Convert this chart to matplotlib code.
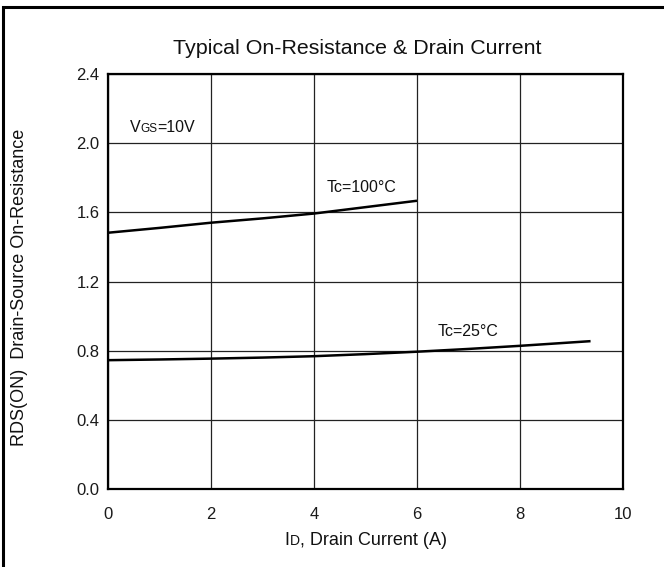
import matplotlib
matplotlib.use("Agg")
import matplotlib.pyplot as plt
from matplotlib.patches import Rectangle

plt.rcParams['font.family'] = ['Liberation Sans', 'DejaVu Sans']

# Data
id_100 = [0, 1, 2, 3, 4, 5, 6]
r_100 = [1.482, 1.51, 1.540, 1.565, 1.593, 1.630, 1.667]
id_25 = [0, 1, 2, 3, 4, 5, 6, 7, 8, 9.37]
r_25 = [0.745, 0.749, 0.754, 0.760, 0.768, 0.780, 0.794, 0.810, 0.828, 0.855]

x_ticks = [0, 2, 4, 6, 8, 10]
y_ticks = [0.0, 0.4, 0.8, 1.2, 1.6, 2.0, 2.4]

fig = plt.figure(figsize=(6.64, 5.67), dpi=100)
ax = fig.add_axes([108/664, 78/567, 515/664, 415/567])

ax.plot(id_100, r_100, color='black', lw=1.8, solid_capstyle='butt')
ax.plot(id_25, r_25, color='black', lw=1.8, solid_capstyle='butt')

ax.set_xlim(0, 10)
ax.set_ylim(0, 2.4)
ax.set_xticks(x_ticks)
ax.set_xticklabels([str(v) for v in x_ticks])
ax.set_yticks(y_ticks)
ax.set_yticklabels([f"{v:.1f}" for v in y_ticks])
ax.tick_params(length=0, labelsize=12, colors='#1a1a1a')
ax.tick_params(axis='x', pad=13)
ax.tick_params(axis='y', pad=6)
ax.grid(True, color='#222222', lw=0.9)
ax.set_axisbelow(True)
for s in ax.spines.values():
    s.set_linewidth(1.6)
    s.set_color('black')

fs = 11.5
ax.text(4.25, 1.745, "Tc=100°C", fontsize=fs, ha='left', va='center', color='#111111')
ax.text(6.4, 0.91, "Tc=25°C", fontsize=fs, ha='left', va='center', color='#111111')

# VGS=10V with small GS
t1 = ax.text(0.42, 2.05, "V", fontsize=fs, ha='left', va='bottom', color='#111111')
t2 = ax.annotate("GS", xy=(1, 0), xycoords=t1, fontsize=8.5, ha='left', va='bottom', color='#111111')
t3 = ax.annotate("=10V", xy=(1, 0), xycoords=t2, fontsize=fs, ha='left', va='bottom', color='#111111')

# title
fig.text(357/664, 1 - 49/567, "Typical On-Resistance & Drain Current",
         fontsize=15.4, ha='center', va='center', color='#111111')

# x label with small D
lfs = 13
sfs = 10
base_y = 1 - 545/567
cx = (108 + 623) / 2
r = fig.canvas.get_renderer()
tmp = [fig.text(0, 0, s, fontsize=f) for s, f in (("I", lfs), ("D", sfs), (", Drain Current (A)", lfs))]
full_w = sum(t.get_window_extent(r).width for t in tmp)
for t in tmp:
    t.remove()
x0 = cx - full_w / 2
xl1 = fig.text(x0 / 664, base_y, "I", fontsize=lfs, ha='left', va='baseline', color='#111111')
b1 = xl1.get_window_extent(r)
xl2 = fig.text(b1.x1 / 664, base_y, "D", fontsize=sfs, ha='left', va='baseline', color='#111111')
b2 = xl2.get_window_extent(r)
fig.text(b2.x1 / 664, base_y, ", Drain Current (A)", fontsize=lfs, ha='left', va='baseline', color='#111111')

# y label
fig.text(20/664, 1 - 287/567, "RDS(ON)  Drain-Source On-Resistance", fontsize=13,
         rotation=90, ha='center', va='center', color='#111111')

# outer border (left and top visible)
fig.patches.append(Rectangle((3.5/664, -0.1), 1.2, 1 - 6.5/567 + 0.1, transform=fig.transFigure,
                             fill=False, edgecolor='black', lw=2.2, figure=fig))

fig.savefig("out.png", dpi=100)
